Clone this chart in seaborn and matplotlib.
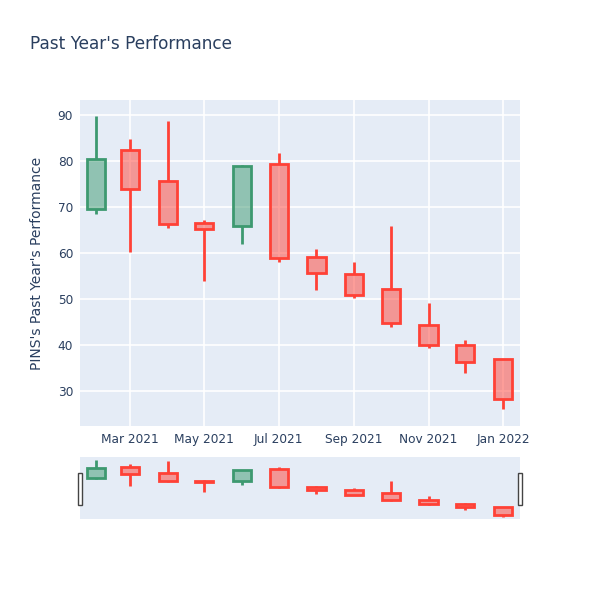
import seaborn as sns
import pandas as pd
import matplotlib.pyplot as plt
import matplotlib.dates as mdates
from matplotlib.patches import Rectangle

# monthly OHLC
months = pd.to_datetime(['2021-02-01', '2021-03-01', '2021-04-01', '2021-05-01',
                         '2021-06-01', '2021-07-01', '2021-08-01', '2021-09-01',
                         '2021-10-01', '2021-11-01', '2021-12-01', '2022-01-01'])
open_ = [69.6, 82.4, 75.7, 66.6, 65.9, 79.3, 59.2, 55.5, 52.3, 44.4, 40.0, 36.9]
high = [89.8, 84.9, 88.7, 67.2, 79.1, 81.7, 60.9, 58.0, 65.9, 49.1, 41.2, 36.9]
low = [68.6, 60.3, 65.4, 53.9, 62.0, 58.0, 51.9, 50.3, 44.0, 39.3, 34.0, 26.0]
close = [80.4, 74.0, 66.3, 65.3, 78.9, 59.0, 55.6, 50.9, 44.7, 40.0, 36.4, 28.3]
tick_dates = pd.to_datetime(['2021-03-01', '2021-05-01', '2021-07-01',
                             '2021-09-01', '2021-11-01', '2022-01-01'])

df = pd.DataFrame({'date': months, 'open': open_, 'high': high,
                   'low': low, 'close': close})

UP = '#3D9970'
DOWN = '#FF4136'
TXT = '#2a3f5f'

sns.set_theme(style='darkgrid', rc={
    'axes.facecolor': '#E5ECF6',
    'grid.color': 'white',
    'grid.linewidth': 1.2,
    'axes.edgecolor': '#E5ECF6',
    'xtick.color': TXT,
    'ytick.color': TXT,
    'text.color': TXT,
    'axes.labelcolor': TXT,
})
plt.rcParams['font.family'] = ['DejaVu Sans']

fig = plt.figure(figsize=(6, 6), dpi=100)
ax = fig.add_axes([80 / 600, 1 - 426 / 600, 440 / 600, 326 / 600])
ax_rs = fig.add_axes([80 / 600, 1 - 519 / 600, 440 / 600, 62 / 600])

xmin = pd.Timestamp('2021-01-19')
xmax = pd.Timestamp('2022-01-15')
width = pd.Timedelta(days=15)


def draw_candles(a):
    for _, r in df.iterrows():
        col = UP if r['close'] >= r['open'] else DOWN
        lo_b, hi_b = min(r['open'], r['close']), max(r['open'], r['close'])
        a.bar(r['date'], hi_b - lo_b, bottom=lo_b, width=width,
              facecolor=col, alpha=0.5, edgecolor='none', zorder=3)
        a.bar(r['date'], hi_b - lo_b, bottom=lo_b, width=width,
              facecolor='none', edgecolor=col, linewidth=2, zorder=4)
        a.vlines(r['date'], r['low'], lo_b, color=col, linewidth=2, zorder=4)
        a.vlines(r['date'], hi_b, r['high'], color=col, linewidth=2, zorder=4)


draw_candles(ax)
ax.set_xlim(xmin, xmax)
ax.set_ylim(22.4, 93.3)
ax.set_yticks([30, 40, 50, 60, 70, 80, 90])
ax.set_xticks(tick_dates)
ax.xaxis.set_major_formatter(mdates.DateFormatter('%b %Y'))
ax.tick_params(axis='both', labelsize=8.7, length=0, pad=5)
ax.set_ylabel("PINS's Past Year's Performance", fontsize=10, labelpad=10)
for s in ax.spines.values():
    s.set_visible(False)

draw_candles(ax_rs)
ax_rs.set_xlim(xmin, xmax)
ax_rs.set_ylim(23.4, 93.2)
ax_rs.grid(False)
ax_rs.set_xticks([])
ax_rs.set_yticks([])
for s in ax_rs.spines.values():
    s.set_visible(False)

# range slider handles
for hx in (77.5, 518):
    fig.patches.append(Rectangle((hx / 600, 1 - 505 / 600), 4 / 600, 32 / 600,
                                 transform=fig.transFigure, facecolor='white',
                                 edgecolor='#444444', linewidth=1, zorder=5))

fig.text(30 / 600, 1 - 44 / 600, "Past Year's Performance", fontsize=12.2,
         color=TXT, va='center', ha='left')

fig.savefig('out.png', dpi=100)
